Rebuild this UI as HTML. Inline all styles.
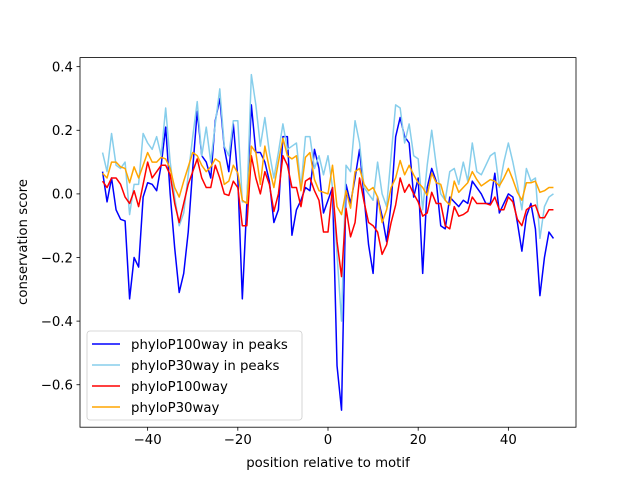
<!DOCTYPE html>
<html><head><meta charset="utf-8"><style>
html,body{margin:0;padding:0;background:#fff;}
svg{display:block;font-family:"DejaVu Sans","Liberation Sans",sans-serif;}
</style></head><body>
<svg id="chart" width="640" height="480" viewBox="0 0 640 480">
<rect x="0" y="0" width="640" height="480" fill="#fff"/>
<g id="ticks"></g>
<g id="series"></g>
<rect x="80" y="57.6" width="496" height="369.6" fill="none" stroke="#000" stroke-width="0.8"/>
<text x="328" y="467" font-size="13.3" text-anchor="middle">position relative to motif</text>
<text x="0" y="0" font-size="13.3" text-anchor="middle" transform="translate(27,242) rotate(-90)">conservation score</text>
<g id="legend"></g>
</svg>
<script>
const xTicks = [-40, -20, 0, 20, 40];
const yTicks = [-0.6, -0.4, -0.2, 0.0, 0.2, 0.4];
const yTickLabels = ["−0.6", "−0.4", "−0.2", "0.0", "0.2", "0.4"];
const seriesNames = ["phyloP100way in peaks", "phyloP30way in peaks", "phyloP100way", "phyloP30way"];
const seriesColors = ["#0000ff", "#87ceeb", "#ff0000", "#ffa500"];
const positions = [];
for (let p = -50; p <= 50; p++) positions.push(p);

const blue = [0.07,-0.025,0.05,-0.05,-0.08,-0.085,-0.33,-0.2,-0.23,-0.01,0.035,0.03,0.01,0.09,0.21,0.0,-0.17,-0.31,-0.25,-0.12,0.08,0.26,0.12,0.1,0.05,0.23,0.30,0.145,0.07,0.22,0.05,-0.33,-0.03,0.28,0.13,0.13,0.1,0.04,-0.09,-0.05,0.18,0.18,-0.13,-0.05,-0.02,0.02,0.01,0.14,0.08,-0.06,-0.02,0.02,-0.54,-0.68,0.03,-0.03,0.05,0.14,-0.01,-0.16,-0.25,-0.01,-0.07,-0.15,-0.03,0.18,0.24,0.18,0.16,-0.01,0.05,-0.25,0.02,0.08,0.04,-0.1,-0.11,-0.01,-0.025,-0.04,-0.02,-0.03,0.04,0.02,0.0,-0.03,-0.03,0.065,-0.06,-0.03,0.0,-0.01,-0.09,-0.18,-0.07,-0.03,-0.11,-0.32,-0.2,-0.12,-0.14];
const lightBlue = [0.13,0.07,0.19,0.09,0.08,0.1,-0.065,0.03,0.03,0.19,0.16,0.14,0.18,0.12,0.27,0.1,-0.01,-0.1,-0.06,0.06,0.18,0.29,0.12,0.21,0.1,0.22,0.33,0.15,0.12,0.23,0.23,-0.025,-0.025,0.375,0.28,0.15,0.24,0.13,0.05,0.13,0.22,0.14,0.15,0.16,0.02,0.18,0.18,0.08,0.12,0.06,0.12,0.02,-0.19,-0.40,0.09,0.07,0.23,0.16,0.02,0.0,-0.02,0.1,0.0,-0.04,0.12,0.28,0.27,0.16,0.22,0.12,0.11,-0.05,0.09,0.2,0.09,0.0,-0.02,0.07,0.08,0.03,0.1,0.04,0.16,0.07,0.06,0.09,0.12,0.13,0.02,0.1,0.16,0.1,0.03,-0.05,0.08,0.04,0.05,-0.14,-0.04,-0.01,0.0];
const red = [0.04,0.02,0.05,0.05,0.03,-0.01,-0.03,0.01,-0.04,0.03,0.1,0.05,0.07,0.09,0.09,0.06,-0.03,-0.09,-0.03,0.03,0.07,0.11,0.05,0.02,0.02,0.09,0.05,0.0,-0.005,0.04,0.02,-0.1,-0.1,0.12,0.05,0.0,0.07,0.03,-0.055,0.0,0.12,0.09,0.02,0.02,-0.04,0.04,0.05,0.01,-0.02,-0.12,-0.12,0.02,-0.15,-0.26,-0.045,-0.135,-0.09,0.05,-0.025,-0.09,-0.1,-0.12,-0.19,-0.16,-0.09,-0.035,0.05,0.005,0.03,0.0,-0.025,-0.07,-0.06,0.005,-0.03,-0.03,-0.1,-0.11,-0.04,-0.07,-0.065,-0.055,-0.01,-0.03,-0.03,-0.03,-0.035,-0.01,-0.05,-0.05,-0.01,-0.025,-0.08,-0.1,-0.05,-0.04,-0.035,-0.075,-0.075,-0.05,-0.05];
const orange = [0.065,0.05,0.1,0.1,0.085,0.08,0.035,0.085,0.05,0.09,0.13,0.1,0.1,0.115,0.11,0.08,0.02,-0.01,0.04,0.085,0.13,0.12,0.09,0.07,0.085,0.11,0.1,0.03,0.04,0.09,0.065,-0.02,-0.03,0.15,0.13,0.03,0.15,0.08,0.02,0.1,0.175,0.12,0.11,0.12,0.01,0.115,0.13,0.045,0.01,0.005,0.0,0.09,-0.04,-0.065,0.01,-0.045,0.07,0.08,0.03,0.01,0.02,-0.01,-0.09,-0.05,0.02,0.05,0.105,0.06,0.09,0.06,0.035,0.02,-0.005,0.065,0.035,0.03,-0.02,-0.035,0.04,0.005,0.02,0.035,0.07,0.045,0.025,0.035,0.045,0.04,0.025,0.05,0.08,0.045,0.005,-0.02,0.035,0.035,0.04,0.005,0.01,0.02,0.02];

const NS = "http://www.w3.org/2000/svg";
const X0 = 80, X1 = 576, Y0 = 57.6, Y1 = 427.2;
const xMin = -55, xMax = 55, yMin = -0.7335, yMax = 0.4285;
function xs(v){ return X0 + (v - xMin) / (xMax - xMin) * (X1 - X0); }
function ys(v){ return Y1 - (v - yMin) / (yMax - yMin) * (Y1 - Y0); }
function mk(tag, attrs, parent){ const e = document.createElementNS(NS, tag); for (const k in attrs) e.setAttribute(k, attrs[k]); parent.appendChild(e); return e; }

const tg = document.getElementById('ticks');
xTicks.forEach(t => {
  const l = mk('line', {x1: xs(t), x2: xs(t), y1: Y1, y2: Y1 + 3.5, stroke: '#000', 'stroke-width': 0.8}, tg);
  
  
  const tx = mk('text', {x: xs(t), y: Y1 + 17, 'font-size': 13.3, 'text-anchor': 'middle'}, tg);
  tx.textContent = t < 0 ? '−' + Math.abs(t) : String(t);
  
  
});
yTicks.forEach((t, i) => {
  const l = mk('line', {x1: X0 - 3.5, x2: X0, y1: ys(t), y2: ys(t), stroke: '#000', 'stroke-width': 0.8}, tg);
  
  
  const tx = mk('text', {x: X0 - 7, y: ys(t) + 4.8, 'font-size': 13.3, 'text-anchor': 'end'}, tg);
  tx.textContent = yTickLabels[i];
  
  
});

const sg = document.getElementById('series');
const allSeries = [blue, lightBlue, red, orange];
const seriesKeys = ['phylop100way-peaks-line', 'phylop30way-peaks-line', 'phylop100way-line', 'phylop30way-line'];
allSeries.forEach((vals, si) => {
  const pts = vals.map((v, i) => xs(positions[i]).toFixed(2) + ',' + ys(v).toFixed(2)).join(' ');
  const pl = mk('polyline', {points: pts, fill: 'none', stroke: seriesColors[si], 'stroke-width': 1.5, 'stroke-linejoin': 'round'}, sg);
  
  
});

const lg = document.getElementById('legend');
const box = mk('rect', {x: 87, y: 331, width: 215, height: 89, rx: 3, fill: '#fff', 'fill-opacity': 0.8, stroke: '#ccc', 'stroke-width': 0.8}, lg);


seriesNames.forEach((n, i) => {
  const y = 344 + i * 21;
  const l = mk('line', {x1: 92, x2: 120, y1: y, y2: y, stroke: seriesColors[i], 'stroke-width': 1.5}, lg);
  
  
  const t = mk('text', {x: 131, y: y + 4.8, 'font-size': 13.3}, lg);
  t.textContent = n;
  
  
});
</script>
</body></html>
